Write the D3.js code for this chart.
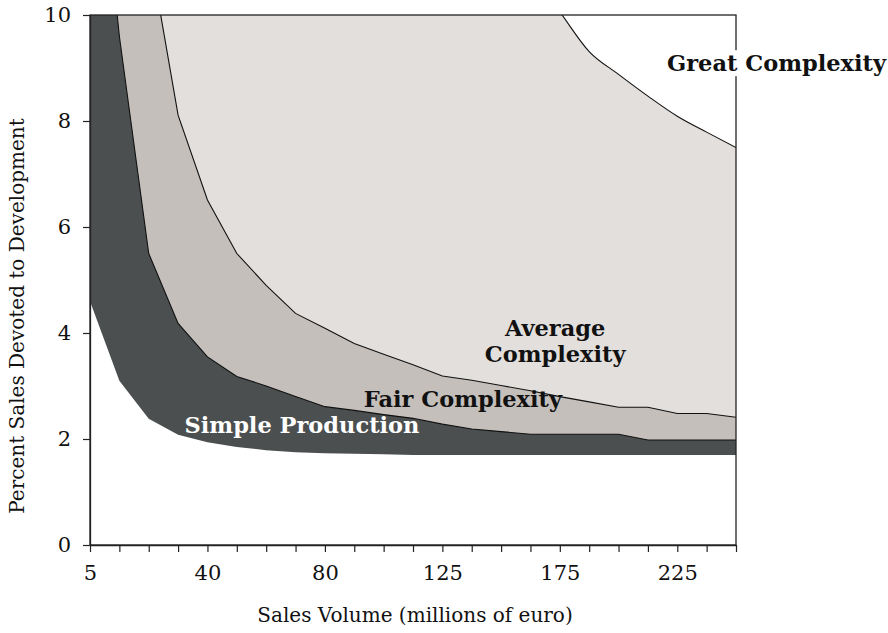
<!DOCTYPE html>
<html>
<head>
<meta charset="utf-8">
<script src="https://cdn.jsdelivr.net/npm/d3@7"></script>
<style>
  body { margin: 0; background: #fff; }
  text { font-family: "DejaVu Serif", serif; }
</style>
</head>
<body>
<script>
// sales volume categories (evenly spaced on the axis), only some are labelled
var categories = ["5","10","20","30","40","50","60","70","80","90","100","110",
                  "125","135","150","160","175","185","200","210","225","240","250"];
var labeledTicks = ["5","40","80","125","175","225"];
var yTicks = [0, 2, 4, 6, 8, 10];

// region boundaries, percent of sales (null = boundary above the chart)
var simpleLow  = [4.6, 3.1, 2.38, 2.08, 1.94, 1.85, 1.79, 1.75, 1.73, 1.72, 1.71, 1.7,
                  1.7, 1.7, 1.7, 1.7, 1.7, 1.7, 1.7, 1.7, 1.7, 1.7, 1.7];
var simpleTop  = [15, 9.6, 5.5, 4.18, 3.55, 3.18, 3.0, 2.8, 2.61, 2.54, 2.46, 2.39,
                  2.28, 2.19, 2.14, 2.09, 2.09, 2.09, 2.09, 1.98, 1.98, 1.98, 1.98];
var fairTop    = [null, null, 11.3, 8.11, 6.51, 5.5, 4.9, 4.37, 4.09, 3.8, 3.6, 3.4,
                  3.19, 3.11, 3.01, 2.91, 2.8, 2.7, 2.6, 2.6, 2.48, 2.48, 2.41];
var averageTop = [null, null, null, null, null, null, null, null, null, null, null, null,
                  null, null, null, 10.8, 10.06, 9.31, 8.88, 8.47, 8.09, 7.79, 7.5];

var margin = {top: 15, right: 152, bottom: 88, left: 90},
    width = 888 - margin.left - margin.right,
    height = 633 - margin.top - margin.bottom;

var x = d3.scalePoint().domain(categories).range([0, width]);
var y = d3.scaleLinear().domain([0, 10]).range([height, 0]);

var svg = d3.select("body")
    .append("svg")
    .attr("width", 888)
    .attr("height", 633);

var g = svg.append("g")
    .attr("transform", "translate(" + margin.left + "," + margin.top + ")");

g.append("clipPath")
    .attr("id", "plot-clip")
  .append("rect")
    .attr("width", width)
    .attr("height", height);

var plot = g.append("g").attr("clip-path", "url(#plot-clip)");

// each layer fills everything above its lower boundary, painted bottom up
var layers = [
  {values: simpleLow,  fill: "#4b4f50", curve: d3.curveLinear,    stroke: false},
  {values: simpleTop,  fill: "#c4bfbb", curve: d3.curveLinear,    stroke: true},
  {values: fairTop,    fill: "#e2dfdc", curve: d3.curveLinear,    stroke: true},
  {values: averageTop, fill: "#ffffff", curve: d3.curveMonotoneX, stroke: true}
];

layers.forEach(function(layer) {
  var pts = categories.map(function(c, i) { return {cat: c, v: layer.values[i]}; });

  var area = d3.area()
      .defined(function(d) { return d.v != null; })
      .curve(layer.curve)
      .x(function(d) { return x(d.cat); })
      .y0(function(d) { return y(d.v); })
      .y1(-20);

  plot.append("path")
      .datum(pts)
      .attr("d", area)
      .style("fill", layer.fill);
});

layers.forEach(function(layer) {
  if (!layer.stroke) return;
  var pts = categories.map(function(c, i) { return {cat: c, v: layer.values[i]}; });
  var line = d3.line()
      .defined(function(d) { return d.v != null; })
      .curve(layer.curve)
      .x(function(d) { return x(d.cat); })
      .y(function(d) { return y(d.v); });

  plot.append("path")
      .datum(pts)
      .attr("d", line)
      .style("fill", "none")
      .style("stroke", "#111")
      .style("stroke-width", 1.1);
});

// frame
g.append("rect")
    .attr("width", width)
    .attr("height", height)
    .style("fill", "none")
    .style("stroke", "#222")
    .style("stroke-width", 1.3);

// axes
var yAxis = g.append("g")
    .call(d3.axisLeft(y).tickValues(yTicks).tickSize(7).tickSizeOuter(0).tickPadding(12));
var xAxis = g.append("g")
    .attr("transform", "translate(0," + height + ")")
    .call(d3.axisBottom(x).tickSize(7).tickSizeOuter(0).tickPadding(13)
      .tickFormat(function(d) { return labeledTicks.indexOf(d) >= 0 ? d : ""; }));

[xAxis, yAxis].forEach(function(ax) {
  ax.selectAll("text")
      .style("font-family", "DejaVu Serif, serif")
      .style("font-size", "21px")
      .style("fill", "#111");
  ax.selectAll("line").style("stroke", "#222").style("stroke-width", 1.2);
  ax.select(".domain").style("stroke", "#222").style("stroke-width", 1.3);
});

// axis titles
g.append("text")
    .attr("x", width / 2 + 2)
    .attr("y", height + 77)
    .style("text-anchor", "middle")
    .style("font-size", "20px")
    .style("fill", "#111")
    .text("Sales Volume (millions of euro)");

g.append("text")
    .attr("transform", "translate(" + (-66) + "," + (height / 2 + 36) + ") rotate(-90)")
    .style("text-anchor", "middle")
    .style("font-size", "20px")
    .style("fill", "#111")
    .text("Percent Sales Devoted to Development");

// region labels, placed in data units
function xAt(idx) { return idx * x.step(); }

var great = g.append("text")
    .attr("x", xAt(23.38))
    .attr("y", y(8.94))
    .style("text-anchor", "middle")
    .style("font-weight", "bold")
    .style("font-size", "22.5px")
    .style("fill", "#111")
    .text("Great Complexity");
var bb = great.node().getBBox();
g.insert("rect", function() { return great.node(); })
    .attr("x", bb.x - 2)
    .attr("y", bb.y)
    .attr("width", bb.width + 4)
    .attr("height", bb.height)
    .style("fill", "#fff");

var avg = g.append("text")
    .attr("x", xAt(15.84))
    .attr("y", y(3.94))
    .style("text-anchor", "middle")
    .style("font-weight", "bold")
    .style("font-size", "22.5px")
    .style("fill", "#111");
avg.append("tspan").attr("x", xAt(15.84)).text("Average");
avg.append("tspan").attr("x", xAt(15.84)).attr("dy", 26).text("Complexity");

g.append("text")
    .attr("x", xAt(12.7))
    .attr("y", y(2.6))
    .style("text-anchor", "middle")
    .style("font-weight", "bold")
    .style("font-size", "22.5px")
    .style("fill", "#111")
    .text("Fair Complexity");

g.append("text")
    .attr("x", xAt(7.22))
    .attr("y", y(2.11))
    .style("text-anchor", "middle")
    .style("font-weight", "bold")
    .style("font-size", "22.5px")
    .style("fill", "#fff")
    .text("Simple Production");
</script>
</body>
</html>
